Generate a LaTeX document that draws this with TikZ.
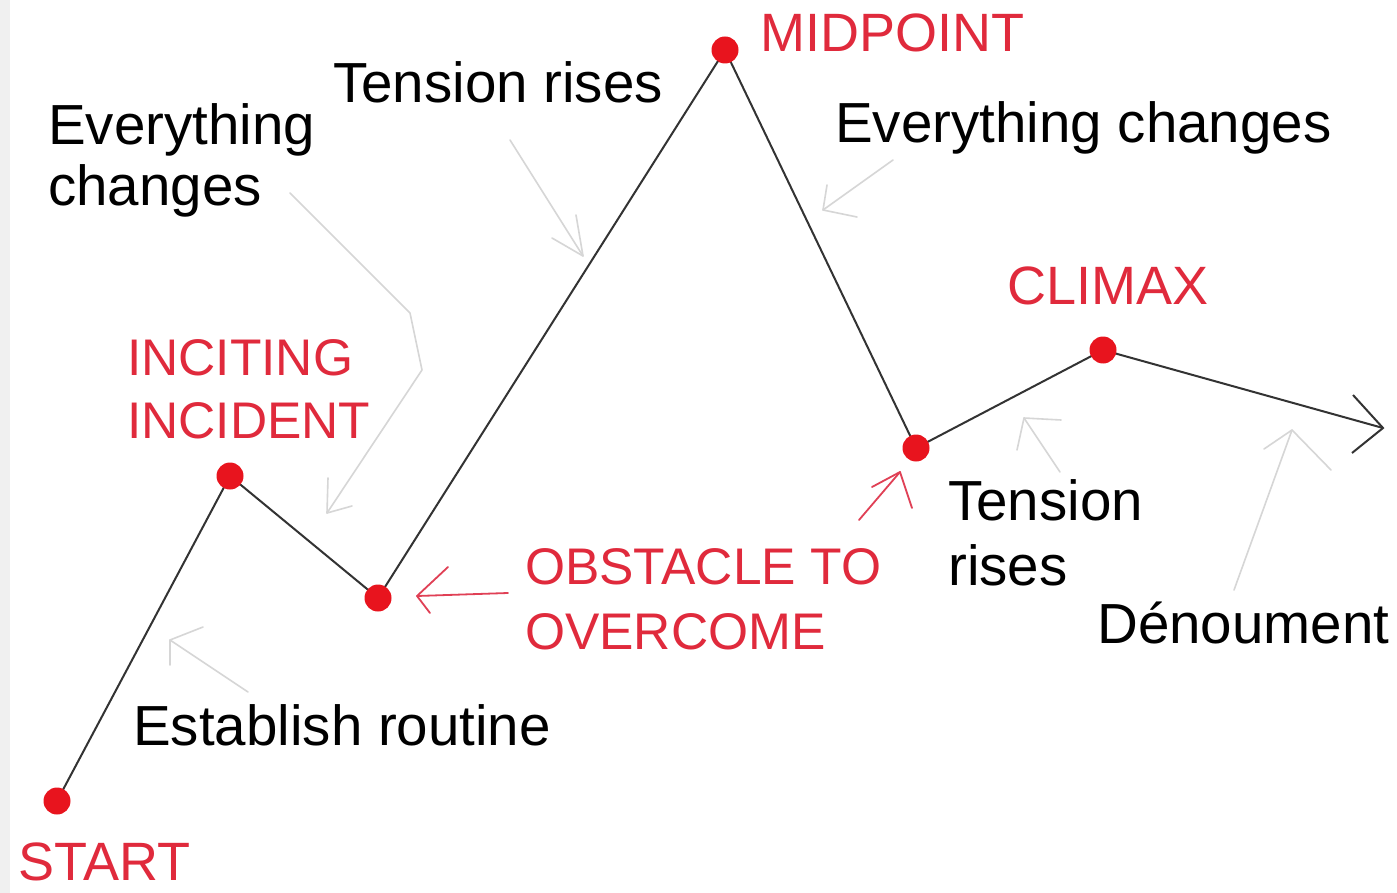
\documentclass[tikz,border=0pt]{standalone}
\usepackage{fontspec}
\setmainfont{Liberation Sans}
\begin{document}
\begin{tikzpicture}[x=1pt,y=-1pt,
  lbl/.style={anchor=base west,inner sep=0pt,font=\fontsize{54}{60}\selectfont},
  redlbl/.style={lbl,text=txtred},
  redlblnar/.style={redlbl,font=\fontsize{51.5}{60}\selectfont},
  blklbl/.style={lbl,text=black,font=\fontsize{56.5}{62}\selectfont},
  dot/.style={circle,fill=dotred,minimum size=27pt,inner sep=0pt},
  mainline/.style={draw=black!80,line width=2pt},
  grayarr/.style={draw=arrgray,line width=1.6pt,line cap=round,line join=round},
  redarr/.style={draw=arrred,line width=1.8pt,line cap=round,line join=round}]
\definecolor{txtred}{HTML}{E02A3C}
\definecolor{dotred}{HTML}{E8141E}
\definecolor{arrgray}{HTML}{D6D6D6}
\definecolor{arrred}{HTML}{E04055}
\useasboundingbox (0,0) rectangle (1397,893);
\fill[white] (0,0) rectangle (1397,893);
\fill[black!6] (0,0) rectangle (10,893);

% points
\coordinate (pS) at (57,801);
\coordinate (pI) at (230,476);
\coordinate (pO) at (378,598);
\coordinate (pM) at (725,50);
\coordinate (pL) at (916,448);
\coordinate (pC) at (1103,350);
\coordinate (pE) at (1383,428);

% main line
\draw[mainline] (pS) -- (pI) -- (pO) -- (pM) -- (pL) -- (pC) -- (pE);
\coordinate (hE1) at (1353,395);
\coordinate (hE2) at (1352,453);
\draw[mainline] (hE1) -- (pE) -- (hE2);

% dots
\node[dot] (dS) at (pS) {};
\node[dot] (dI) at (pI) {};
\node[dot] (dO) at (pO) {};
\node[dot] (dM) at (pM) {};
\node[dot] (dL) at (pL) {};
\node[dot] (dC) at (pC) {};

% labels
\node[blklbl] (tEv1) at (48,145) {Everything};
\node[blklbl] (tEv2) at (48,206) {changes};
\node[blklbl] (tTr) at (333,103) {Tension rises};
\node[redlbl] (tMid) at (760,52) {MIDPOINT};
\node[blklbl] (tEvR) at (835,143) {Everything changes};
\node[redlbl] (tCl) at (1007,305) {CLIMAX};
\node[redlblnar] (tIn1) at (127,375) {INCITING};
\node[redlblnar] (tIn2) at (127,438) {INCIDENT};
\node[redlblnar] (tOb1) at (525,584) {OBSTACLE TO};
\node[redlblnar] (tOb2) at (525,649) {OVERCOME};
\node[blklbl] (tTs1) at (948,520) {Tension};
\node[blklbl] (tTs2) at (948,585) {rises};
\node[blklbl] (tDe) at (1097,643) {Dénoument};
\node[blklbl] (tEs) at (133,745) {Establish routine};
\node[redlbl] (tSt) at (18,880) {START};

% gray arrows
\coordinate (a1s) at (248,692); \coordinate (a1t) at (170,640);
\coordinate (a1h1) at (203,627); \coordinate (a1h2) at (170,665);
\draw[grayarr] (a1s) -- (a1t); \draw[grayarr] (a1h1) -- (a1t) -- (a1h2);

\coordinate (a2s) at (290,193); \coordinate (a2b) at (350,253);
\coordinate (a2c) at (410,313); \coordinate (a2d) at (422,370);
\coordinate (a2t) at (327,513);
\coordinate (a2h1) at (328,478); \coordinate (a2h2) at (352,506);
\draw[grayarr] (a2s) -- (a2b) -- (a2c) -- (a2d) -- (a2t);
\draw[grayarr] (a2h1) -- (a2t) -- (a2h2);

\coordinate (a3s) at (510,140); \coordinate (a3t) at (583,256);
\coordinate (a3h1) at (576,215); \coordinate (a3h2) at (552,238);
\draw[grayarr] (a3s) -- (a3t); \draw[grayarr] (a3h1) -- (a3t) -- (a3h2);

\coordinate (a4s) at (893,160); \coordinate (a4t) at (823,210);
\coordinate (a4h1) at (827,185); \coordinate (a4h2) at (857,217);
\draw[grayarr] (a4s) -- (a4t); \draw[grayarr] (a4h1) -- (a4t) -- (a4h2);

\coordinate (a5s) at (1060,472); \coordinate (a5t) at (1024,418);
\coordinate (a5h1) at (1061,420); \coordinate (a5h2) at (1017,450);
\draw[grayarr] (a5s) -- (a5t); \draw[grayarr] (a5h1) -- (a5t) -- (a5h2);

\coordinate (a6s) at (1234,590); \coordinate (a6t) at (1292,430);
\coordinate (a6h1) at (1264,449); \coordinate (a6h2) at (1331,470);
\draw[grayarr] (a6s) -- (a6t); \draw[grayarr] (a6h1) -- (a6t) -- (a6h2);

% red arrows
\coordinate (r1s) at (508,593); \coordinate (r1t) at (417,596);
\coordinate (r1h1) at (448,567); \coordinate (r1h2) at (430,613);
\draw[redarr] (r1s) -- (r1t); \draw[redarr] (r1h1) -- (r1t) -- (r1h2);

\coordinate (r2s) at (859,520); \coordinate (r2t) at (900,472);
\coordinate (r2h1) at (872,487); \coordinate (r2h2) at (912,508);
\draw[redarr] (r2s) -- (r2t); \draw[redarr] (r2h1) -- (r2t) -- (r2h2);
\end{tikzpicture}
\end{document}
